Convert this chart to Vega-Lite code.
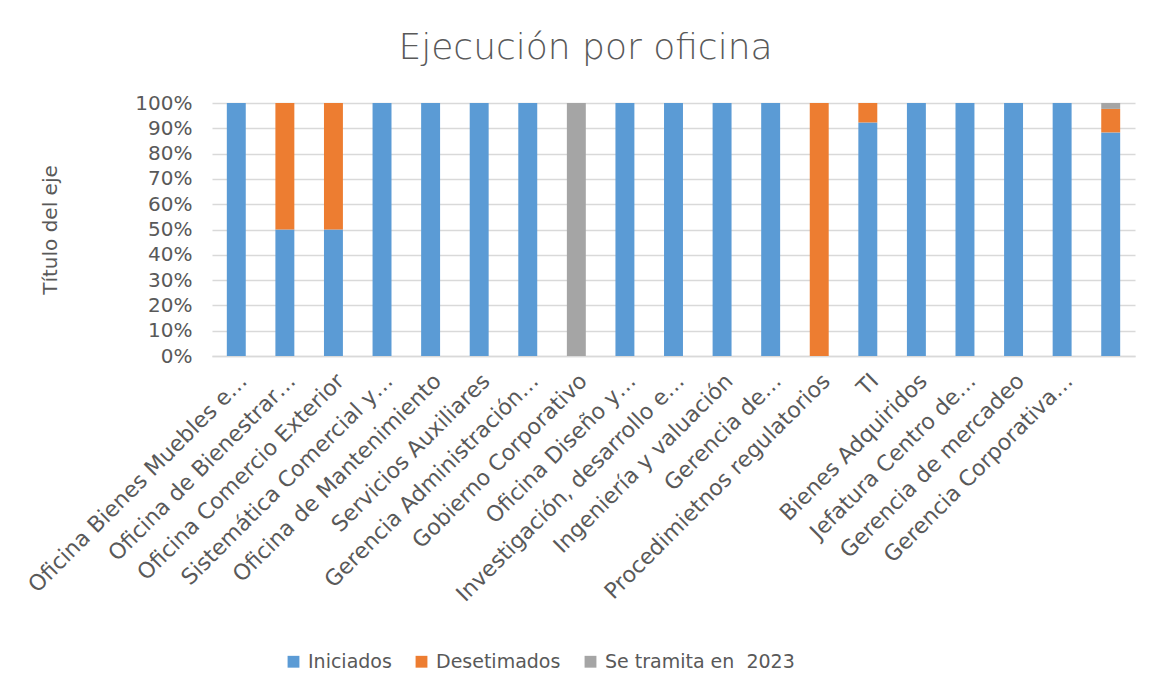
{
  "$schema": "https://vega.github.io/schema/vega-lite/v6.json",
  "autosize": "none",
  "width": 923,
  "height": 253,
  "padding": {"left": 212, "top": 103, "right": 19, "bottom": 340},
  "background": "white",
  "title": {
    "text": "Ejecución por oficina",
    "fontSize": 36,
    "font": "DejaVu Sans",
    "fontWeight": 300,
    "color": "#595959",
    "anchor": "middle",
    "dx": -88,
    "offset": 26
  },
  "data": {
    "values": [
      {"oficina": "Oficina Bienes Muebles e…", "estado": "Iniciados", "n": 1},
      {"oficina": "Oficina de Bienestrar…", "estado": "Iniciados", "n": 1},
      {"oficina": "Oficina de Bienestrar…", "estado": "Desetimados", "n": 1},
      {"oficina": "Oficina Comercio Exterior", "estado": "Iniciados", "n": 1},
      {"oficina": "Oficina Comercio Exterior", "estado": "Desetimados", "n": 1},
      {"oficina": "Sistemática Comercial y…", "estado": "Iniciados", "n": 1},
      {"oficina": "Oficina de Mantenimiento", "estado": "Iniciados", "n": 1},
      {"oficina": "Servicios Auxiliares", "estado": "Iniciados", "n": 1},
      {"oficina": "Gerencia Administración…", "estado": "Iniciados", "n": 1},
      {"oficina": "Gobierno Corporativo", "estado": "Se tramita en  2023", "n": 1},
      {"oficina": "Oficina Diseño y…", "estado": "Iniciados", "n": 1},
      {"oficina": "Investigación, desarrollo e…", "estado": "Iniciados", "n": 1},
      {"oficina": "Ingeniería y valuación", "estado": "Iniciados", "n": 1},
      {"oficina": "Gerencia de…", "estado": "Iniciados", "n": 1},
      {"oficina": "Procedimietnos regulatorios", "estado": "Desetimados", "n": 1},
      {"oficina": "TI", "estado": "Iniciados", "n": 12},
      {"oficina": "TI", "estado": "Desetimados", "n": 1},
      {"oficina": "Bienes Adquiridos", "estado": "Iniciados", "n": 1},
      {"oficina": "Jefatura Centro de…", "estado": "Iniciados", "n": 1},
      {"oficina": "Gerencia de mercadeo", "estado": "Iniciados", "n": 1},
      {"oficina": "Gerencia Corporativa…", "estado": "Iniciados", "n": 1},
      {"oficina": "", "estado": "Iniciados", "n": 38},
      {"oficina": "", "estado": "Desetimados", "n": 4},
      {"oficina": "", "estado": "Se tramita en  2023", "n": 1}
    ]
  },
  "transform": [
    {"calculate": "indexof(['Iniciados', 'Desetimados', 'Se tramita en  2023'], datum.estado)", "as": "orden"}
  ],
  "mark": {"type": "bar"},
  "encoding": {
    "x": {
      "field": "oficina",
      "type": "nominal",
      "sort": null,
      "scale": {"paddingInner": 0.61, "paddingOuter": 0.305},
      "axis": {
        "title": null,
        "labelAngle": -45,
        "labelAlign": "right",
        "labelBaseline": "top",
        "labelFontSize": 22,
        "labelFont": "DejaVu Sans",
        "labelColor": "#595959",
        "labelLimit": 400,
        "labelOverlap": false,
        "labelPadding": 14,
        "labelDx": -3,
        "ticks": false,
        "domainColor": "#d9d9d9",
        "domainWidth": 1.5,
        "grid": false
      }
    },
    "y": {
      "field": "n",
      "type": "quantitative",
      "stack": "normalize",
      "scale": {"domain": [0, 1]},
      "axis": {
        "title": "Título del eje",
        "titleFontSize": 20,
        "titleFont": "DejaVu Sans",
        "titleFontWeight": "normal",
        "titleColor": "#595959",
        "titlePadding": 74,
        "format": ".0%",
        "values": [0, 0.1, 0.2, 0.3, 0.4, 0.5, 0.6, 0.7, 0.8, 0.9, 1],
        "labelOverlap": false,
        "labelFontSize": 20,
        "labelFont": "DejaVu Sans",
        "labelColor": "#595959",
        "labelPadding": 20,
        "ticks": false,
        "domain": false,
        "gridColor": "#d9d9d9",
        "gridWidth": 1.5
      }
    },
    "color": {
      "field": "estado",
      "type": "nominal",
      "scale": {
        "domain": ["Iniciados", "Desetimados", "Se tramita en  2023"],
        "range": ["#5B9BD5", "#ED7D31", "#A5A5A5"]
      },
      "legend": {
        "title": null,
        "orient": "none",
        "direction": "horizontal",
        "legendX": 72,
        "legendY": 549,
        "symbolType": "square",
        "symbolSize": 140,
        "symbolStrokeWidth": 0,
        "labelFontSize": 19,
        "labelFont": "DejaVu Sans",
        "labelColor": "#595959",
        "labelLimit": 400,
        "labelExpr": "replace(datum.label, '  ', ' \u00a0')",
        "columnPadding": 20,
        "labelOffset": 5
      }
    },
    "order": {"field": "orden", "type": "quantitative"}
  },
  "config": {"view": {"stroke": null}}
}
